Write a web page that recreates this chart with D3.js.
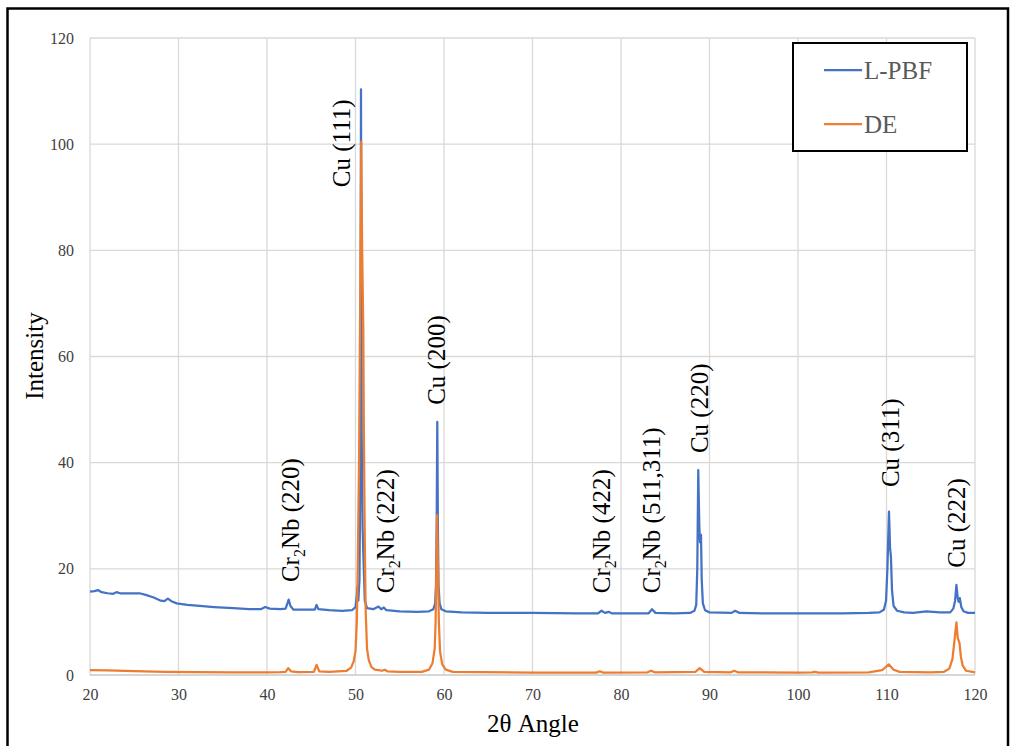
<!DOCTYPE html>
<html>
<head>
<meta charset="utf-8">
<script src="https://cdn.jsdelivr.net/npm/d3@7"></script>
<style>
  html, body { margin: 0; padding: 0; background: #fff; }
  #viz { width: 1016px; height: 746px; }
</style>
</head>
<body>
<div id="viz"></div>
<script>
// -----------------------------
// DATA
// -----------------------------
const xTicks = [20, 30, 40, 50, 60, 70, 80, 90, 100, 110, 120];
const yTicks = [0, 20, 40, 60, 80, 100, 120];

const seriesNames = ["L-PBF", "DE"];
const seriesColors = ["#4472C4", "#ED7D31"];

// [2theta, intensity]
const lpbf = [
  [20.0,15.7],[20.5,15.8],[20.9,16.0],[21.3,15.6],[22.0,15.4],[22.6,15.3],[23.0,15.6],[23.4,15.4],
  [24.5,15.4],[25.6,15.4],[26.3,15.1],[27.2,14.6],[28.0,14.0],[28.4,13.9],[28.8,14.4],[29.2,13.9],
  [29.8,13.5],[31.0,13.2],[32.4,13.0],[34.0,12.8],[36.2,12.6],[38.0,12.4],[39.3,12.4],[39.8,12.8],
  [40.3,12.5],[41.5,12.4],[42.1,12.5],[42.25,13.2],[42.45,14.2],[42.65,13.0],[43.0,12.3],[44.5,12.3],
  [45.4,12.3],[45.6,13.2],[45.8,12.4],[47.0,12.2],[48.5,12.1],[49.6,12.2],[50.0,12.8],[50.15,15.0],
  [50.22,16.6],[50.32,14.0],[50.45,18],[50.55,40],[50.62,110.3],[50.7,45],[50.8,28],[50.9,22],
  [51.05,14],[51.3,12.6],[52.0,12.4],[52.6,12.9],[52.9,12.4],[53.2,12.7],[53.5,12.2],[55.0,12.0],
  [57.0,11.9],[58.3,12.0],[58.8,12.4],[59.0,13.5],[59.1,17],[59.17,28],[59.24,47.7],[59.31,28],
  [59.38,17],[59.5,13.5],[59.7,12.4],[60.2,12.0],[62,11.8],[65,11.7],[70,11.7],[75,11.6],
  [77.4,11.6],[77.8,12.1],[78.2,11.7],[78.6,11.9],[79.0,11.6],[81,11.6],[83.1,11.6],[83.5,12.4],
  [83.9,11.7],[86,11.6],[87.8,11.7],[88.3,12.1],[88.5,13.2],[88.62,20],[88.73,38.6],[88.85,28],
  [88.93,25],[89.04,26.4],[89.12,18],[89.25,13.5],[89.5,12.2],[90.0,11.8],[92.5,11.7],[92.9,12.1],
  [93.4,11.7],[96,11.6],[100,11.6],[105,11.6],[108,11.7],[109.2,11.8],[109.7,12.3],[109.95,14],
  [110.1,20],[110.28,30.8],[110.4,24],[110.5,22.3],[110.62,16],[110.8,13],[111.2,12.1],[112,11.8],
  [113,11.7],[114.5,12.0],[116,11.8],[117.2,11.8],[117.55,12.5],[117.75,14],[117.9,17.0],[118.05,14.5],
  [118.15,13.8],[118.28,14.5],[118.45,12.8],[118.7,12.0],[119.2,11.7],[120,11.7]
];

const de = [
  [20,0.9],[22,0.85],[25,0.75],[28.5,0.6],[32,0.55],[36,0.5],[40,0.5],[41.5,0.55],[42.1,0.6],
  [42.4,1.3],[42.7,0.7],[43.5,0.55],[45.3,0.6],[45.6,1.9],[45.9,0.7],[47,0.6],[49.0,0.8],[49.5,1.4],
  [49.8,2.6],[50.0,4.5],[50.15,10],[50.25,20],[50.4,40],[50.55,75],[50.65,100.5],[50.75,80],
  [50.88,65.3],[50.95,45],[51.05,25],[51.15,12],[51.3,5],[51.5,2.8],[51.8,1.5],[52.2,1.0],
  [52.6,0.9],[53.0,0.8],[53.3,1.0],[53.6,0.7],[55,0.6],[57.5,0.6],[58.3,1.0],[58.7,2.2],
  [58.95,5],[59.05,10],[59.12,18],[59.22,30.1],[59.32,20],[59.42,10],[59.55,4.5],[59.8,2.0],
  [60.2,1.0],[61,0.6],[70,0.45],[77.2,0.45],[77.6,0.7],[78,0.45],[83,0.5],[83.4,0.8],[83.8,0.5],
  [88.4,0.6],[88.9,1.3],[89.4,0.6],[92.4,0.5],[92.8,0.8],[93.2,0.5],[100,0.45],[101.6,0.5],
  [101.9,0.6],[102.3,0.45],[108,0.5],[109.5,0.9],[110.25,2.0],[110.8,1.0],[111.5,0.6],[115,0.5],
  [116.5,0.6],[117.1,1.2],[117.45,3],[117.65,6],[117.9,9.9],[118.05,7.0],[118.25,6.0],[118.4,3.5],
  [118.6,1.8],[119.0,0.8],[120,0.5]
];

// peak labels: [main text, subscript, rest, 2theta, intensity at text start]
const peakLabels = [
  ["Cr", "2", "Nb (220)", 42.7, 17.5],
  ["Cu (111)", "", "", 48.5, 91.9],
  ["Cr", "2", "Nb (222)", 53.45, 15.4],
  ["Cu (200)", "", "", 59.2, 50.9],
  ["Cr", "2", "Nb (422)", 77.85, 15.4],
  ["Cr", "2", "Nb (511,311)", 83.5, 15.4],
  ["Cu (220)", "", "", 88.93, 41.8],
  ["Cu (311)", "", "", 110.5, 35.4],
  ["Cu (222)", "", "", 117.97, 20.2]
];

// -----------------------------
// SETUP
// -----------------------------
const width = 1016, height = 746;
const SERIF = '"Liberation Serif", "Times New Roman", "DejaVu Serif", serif';

const svg = d3.select("#viz")
  .append("svg")
  .attr("width", width)
  .attr("height", height)
  .attr("font-family", SERIF)
  .style("display", "block");

const x = d3.scaleLinear().domain([20, 120]).range([90, 975]);
const y = d3.scaleLinear().domain([0, 120]).range([675, 38]);

// outer frame
svg.append("rect")
  .attr("x", 7.5).attr("y", 8.5)
  .attr("width", 1000.5).attr("height", 800)
  .attr("fill", "none")
  .attr("stroke", "#000")
  .attr("stroke-width", 2.5);

// -----------------------------
// GRID
// -----------------------------
svg.append("g")
  .selectAll("line")
  .data(xTicks)
  .join("line")
  .attr("x1", d => x(d)).attr("x2", d => x(d))
  .attr("y1", y(120)).attr("y2", y(0))
  .attr("stroke", "#d9d9d9")
  .attr("stroke-width", 1.3);

svg.append("g")
  .selectAll("line")
  .data(yTicks)
  .join("line")
  .attr("x1", x(20)).attr("x2", x(120))
  .attr("y1", d => y(d)).attr("y2", d => y(d))
  .attr("stroke", d => d === 0 ? "#c8c8c8" : "#d9d9d9")
  .attr("stroke-width", 1.3);

// -----------------------------
// AXES (labels only, Excel style)
// -----------------------------
const xAxis = svg.append("g")
  .attr("transform", `translate(0,${y(0)})`)
  .call(d3.axisBottom(x).tickValues(xTicks).tickSize(0).tickPadding(14));
const yAxis = svg.append("g")
  .attr("transform", `translate(${x(20)},0)`)
  .call(d3.axisLeft(y).tickValues(yTicks).tickSize(0).tickPadding(16));

[xAxis, yAxis].forEach(g => {
  g.attr("font-family", SERIF).attr("font-size", 16);
  g.select(".domain").remove();
  g.selectAll("text")
    .style("font-family", SERIF)
    .style("font-size", "16px")
    .attr("fill", "#404040");
});

svg.append("text")
  .attr("x", 533).attr("y", 732)
  .attr("text-anchor", "middle")
  .style("font-family", SERIF)
  .style("font-size", "25px")
  .text("2θ Angle");

svg.append("text")
  .attr("transform", "translate(43,356) rotate(-90)")
  .attr("text-anchor", "middle")
  .style("font-family", SERIF)
  .style("font-size", "25px")
  .text("Intensity");

// -----------------------------
// LINES
// -----------------------------
const line = d3.line()
  .x(d => x(d[0]))
  .y(d => y(d[1]));

[lpbf, de].forEach((data, i) => {
  svg.append("path")
    .datum(data)
    .attr("d", line)
    .attr("fill", "none")
    .attr("stroke", seriesColors[i])
    .attr("stroke-width", 2.25)
    .attr("stroke-linejoin", "round");
});

// -----------------------------
// PEAK LABELS
// -----------------------------
peakLabels.forEach(([a, sub, b, tx, ty]) => {
  const t = svg.append("text")
    .attr("transform", `translate(${x(tx)},${y(ty)}) rotate(-90)`)
    .attr("dy", "0.32em")
    .style("font-family", SERIF)
    .style("font-size", "25px")
    .attr("fill", "#000");
  t.append("tspan").text(a);
  if (sub) {
    t.append("tspan").attr("dy", 6).style("font-size", "16px").text(sub);
    t.append("tspan").attr("dy", -6).text(b);
  }
});

// -----------------------------
// LEGEND
// -----------------------------
const legend = svg.append("g");
legend.append("rect")
  .attr("x", 793).attr("y", 43)
  .attr("width", 174).attr("height", 108)
  .attr("fill", "#fff")
  .attr("stroke", "#000")
  .attr("stroke-width", 2);

seriesNames.forEach((name, i) => {
  const ly = 70 + i * 54;
  legend.append("line")
    .attr("x1", 824).attr("x2", 862)
    .attr("y1", ly).attr("y2", ly)
    .attr("stroke", seriesColors[i])
    .attr("stroke-width", 2.25);
  legend.append("text")
    .attr("x", 864).attr("y", ly + 9)
    .style("font-family", SERIF)
    .style("font-size", "25px")
    .attr("fill", "#595959")
    .text(name);
});
</script>
</body>
</html>
